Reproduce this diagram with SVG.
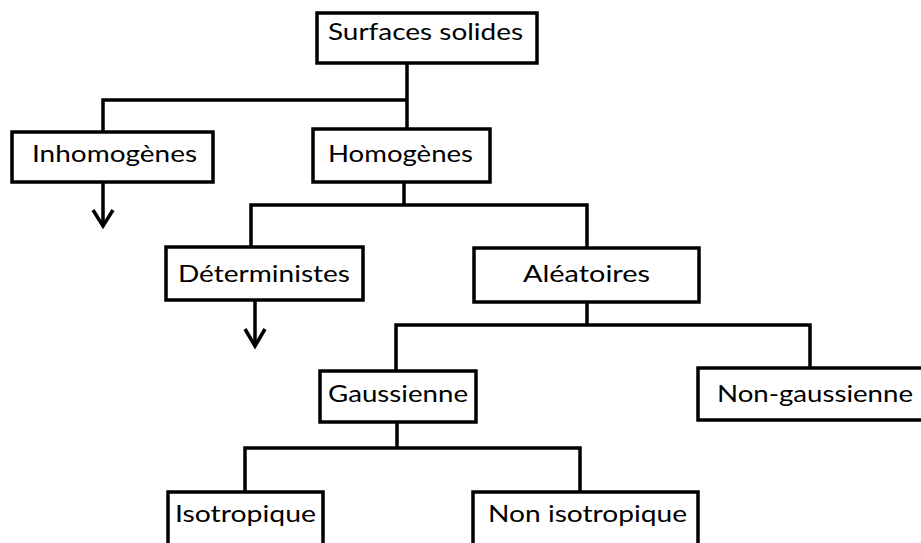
<svg xmlns="http://www.w3.org/2000/svg" width="921" height="543" viewBox="0 0 921 543">
<style>
.box{fill:#fff;stroke:#000;stroke-width:3.5}
.lbl{font-family:Lato,"Open Sans","Liberation Sans",sans-serif;font-size:24px;fill:#000}
.ln{fill:none;stroke:#000;stroke-width:3.5;stroke-linejoin:miter}
</style>
<rect width="921" height="543" fill="#fff"/>
<g id="connectors">
<path class="ln" d="M407,63 V129"/>
<path class="ln" d="M103,132 V100 H407"/>
<path class="ln" d="M404,182 V205"/>
<path class="ln" d="M251,247 V205 H587 V248"/>
<path class="ln" d="M103,182 V226"/>
<polyline class="ln" points="93,210 103,226 113,210"/>
<path class="ln" d="M255,300 V346"/>
<polyline class="ln" points="245,329 255,346 265,329"/>
<path class="ln" d="M587,302 V325"/>
<path class="ln" d="M396,371 V325 H810 V368"/>
<path class="ln" d="M397,422 V448"/>
<path class="ln" d="M245,492 V448 H580 V492"/>
</g>
<g id="surfaces">
<rect class="box" x="317" y="13" width="220" height="50"/>
<text class="lbl" x="328" y="40" textLength="195" lengthAdjust="spacingAndGlyphs">Surfaces solides</text>
</g>
<g id="inhomogenes">
<rect class="box" x="12" y="132" width="201" height="50"/>
<text class="lbl" x="32" y="162" textLength="165" lengthAdjust="spacingAndGlyphs">Inhomogènes</text>
</g>
<g id="homogenes">
<rect class="box" x="313" y="129" width="177" height="53"/>
<text class="lbl" x="328" y="162" textLength="145" lengthAdjust="spacingAndGlyphs">Homogènes</text>
</g>
<g id="deterministes">
<rect class="box" x="166" y="247" width="197" height="53"/>
<text class="lbl" x="178" y="282" textLength="172" lengthAdjust="spacingAndGlyphs">Déterministes</text>
</g>
<g id="aleatoires">
<rect class="box" x="474" y="248" width="225" height="54"/>
<text class="lbl" x="523" y="282" textLength="127" lengthAdjust="spacingAndGlyphs">Aléatoires</text>
</g>
<g id="gaussienne">
<rect class="box" x="320" y="371" width="156" height="51"/>
<text class="lbl" x="328" y="402" textLength="140" lengthAdjust="spacingAndGlyphs">Gaussienne</text>
</g>
<g id="nongaussienne">
<rect class="box" x="698" y="368" width="240" height="52"/>
<text class="lbl" x="717" y="402" textLength="196" lengthAdjust="spacingAndGlyphs">Non-gaussienne</text>
</g>
<g id="isotropique">
<rect class="box" x="168" y="492" width="155" height="70"/>
<text class="lbl" x="175" y="522" textLength="141" lengthAdjust="spacingAndGlyphs">Isotropique</text>
</g>
<g id="nonisotropique">
<rect class="box" x="473" y="492" width="225" height="70"/>
<text class="lbl" x="488" y="522" textLength="199" lengthAdjust="spacingAndGlyphs">Non isotropique</text>
</g>
</svg>
